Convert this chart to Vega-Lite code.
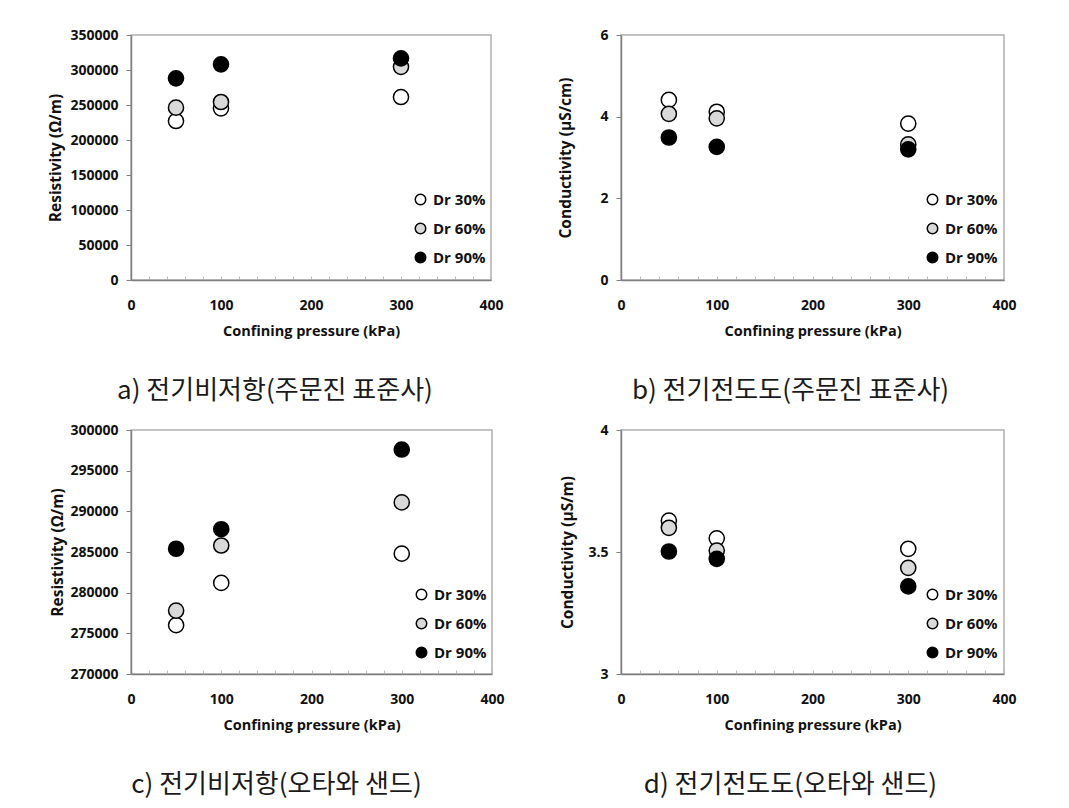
{
  "$schema": "https://vega.github.io/schema/vega-lite/v6.json",
  "background": "white",
  "padding": {"left": 48, "top": 27, "right": 5, "bottom": 5},
  "datasets": {
    "a": [
      {"p": 50, "v": 227100, "s": "Dr 30%"}, {"p": 100, "v": 245200, "s": "Dr 30%"}, {"p": 300, "v": 261400, "s": "Dr 30%"},
      {"p": 50, "v": 246200, "s": "Dr 60%"}, {"p": 100, "v": 254300, "s": "Dr 60%"}, {"p": 300, "v": 304500, "s": "Dr 60%"},
      {"p": 50, "v": 288100, "s": "Dr 90%"}, {"p": 100, "v": 308100, "s": "Dr 90%"}, {"p": 300, "v": 316700, "s": "Dr 90%"}
    ],
    "b": [
      {"p": 50, "v": 4.41, "s": "Dr 30%"}, {"p": 100, "v": 4.12, "s": "Dr 30%"}, {"p": 300, "v": 3.83, "s": "Dr 30%"},
      {"p": 50, "v": 4.07, "s": "Dr 60%"}, {"p": 100, "v": 3.96, "s": "Dr 60%"}, {"p": 300, "v": 3.32, "s": "Dr 60%"},
      {"p": 50, "v": 3.49, "s": "Dr 90%"}, {"p": 100, "v": 3.26, "s": "Dr 90%"}, {"p": 300, "v": 3.2, "s": "Dr 90%"}
    ],
    "c": [
      {"p": 50, "v": 276000, "s": "Dr 30%"}, {"p": 100, "v": 281200, "s": "Dr 30%"}, {"p": 300, "v": 284800, "s": "Dr 30%"},
      {"p": 50, "v": 277800, "s": "Dr 60%"}, {"p": 100, "v": 285800, "s": "Dr 60%"}, {"p": 300, "v": 291100, "s": "Dr 60%"},
      {"p": 50, "v": 285400, "s": "Dr 90%"}, {"p": 100, "v": 287800, "s": "Dr 90%"}, {"p": 300, "v": 297600, "s": "Dr 90%"}
    ],
    "d": [
      {"p": 50, "v": 3.629, "s": "Dr 30%"}, {"p": 100, "v": 3.556, "s": "Dr 30%"}, {"p": 300, "v": 3.513, "s": "Dr 30%"},
      {"p": 50, "v": 3.599, "s": "Dr 60%"}, {"p": 100, "v": 3.506, "s": "Dr 60%"}, {"p": 300, "v": 3.435, "s": "Dr 60%"},
      {"p": 50, "v": 3.502, "s": "Dr 90%"}, {"p": 100, "v": 3.472, "s": "Dr 90%"}, {"p": 300, "v": 3.359, "s": "Dr 90%"}
    ]
  },
  "config": {
    "view": {"stroke": "#b0b0b0", "strokeWidth": 1.5},
    "axis": {
      "grid": false,
      "labelFont": "Open Sans", "labelFontWeight": "bold", "labelFontSize": 14, "labelColor": "#111",
      "titleFont": "Open Sans", "titleFontWeight": "bold", "titleFontSize": 14.5, "titleColor": "#111",
      "domainColor": "#808080", "domainWidth": 1.5, "tickColor": "#808080"
    },
    "axisX": {"tickSize": -4, "tickColor": "#bbbbbb", "labelPadding": 22, "titlePadding": 12, "labelFlush": false},
    "axisY": {"tickSize": 5, "labelPadding": 8, "titleFontSize": 15.5},
    "legend": {
      "orient": "none", "title": null,
      "labelFont": "Open Sans", "labelFontWeight": "bold", "labelFontSize": 15, "labelColor": "#111",
      "symbolType": "circle", "symbolSize": 110, "symbolStrokeColor": "black", "symbolStrokeWidth": 1.5,
      "rowPadding": 12, "labelOffset": 5
    },
    "title": {"orient": "bottom", "font": "Noto Sans CJK KR", "fontSize": 26, "fontWeight": "normal", "color": "#1a1a1a", "anchor": "middle", "frame": "group", "offset": 40}
  },
  "columns": 2,
  "spacing": {"row": 150, "column": 129},
  "bounds": "flush",
  "concat": [
    {
      "width": 360, "height": 245,
      "data": {"name": "a"},
      "title": {"text": "a) 전기비저항(주문진  표준사)", "dx": -36},
      "mark": {"type": "point", "filled": true, "stroke": "black", "strokeWidth": 1.5, "size": 230, "opacity": 1},
      "encoding": {
        "x": {"field": "p", "type": "quantitative", "title": "Confining pressure (kPa)", "scale": {"domain": [0, 400]},
          "axis": {"values": [0,20,40,60,80,100,120,140,160,180,200,220,240,260,280,300,320,340,360,380,400], "labelExpr": "datum.value % 100 == 0 ? datum.label : ''"}},
        "y": {"field": "v", "type": "quantitative", "title": "Resistivity (Ω/m)", "scale": {"domain": [0, 350000]},
          "axis": {"values": [0,50000,100000,150000,200000,250000,300000,350000], "format": "d", "titlePadding": 6}},
        "fill": {"field": "s", "type": "nominal", "scale": {"domain": ["Dr 30%", "Dr 60%", "Dr 90%"], "range": ["white", "#d9d9d9", "black"]},
          "legend": {"legendX": 282, "legendY": 157}}
      }
    },
    {
      "width": 383, "height": 245,
      "data": {"name": "b"},
      "title": {"text": "b) 전기전도도(주문진  표준사)", "dx": -22},
      "mark": {"type": "point", "filled": true, "stroke": "black", "strokeWidth": 1.5, "size": 230, "opacity": 1},
      "encoding": {
        "x": {"field": "p", "type": "quantitative", "title": "Confining pressure (kPa)", "scale": {"domain": [0, 400]},
          "axis": {"values": [0,20,40,60,80,100,120,140,160,180,200,220,240,260,280,300,320,340,360,380,400], "labelExpr": "datum.value % 100 == 0 ? datum.label : ''"}},
        "y": {"field": "v", "type": "quantitative", "title": "Conductivity (μS/cm)", "scale": {"domain": [0, 6]},
          "axis": {"values": [0, 2, 4, 6], "titlePadding": 26}},
        "fill": {"field": "s", "type": "nominal", "scale": {"domain": ["Dr 30%", "Dr 60%", "Dr 90%"], "range": ["white", "#d9d9d9", "black"]},
          "legend": {"legendX": 304, "legendY": 157}}
      }
    },
    {
      "width": 361, "height": 244,
      "data": {"name": "c"},
      "title": {"text": "c) 전기비저항(오타와  샌드)", "dx": -35},
      "mark": {"type": "point", "filled": true, "stroke": "black", "strokeWidth": 1.5, "size": 230, "opacity": 1},
      "encoding": {
        "x": {"field": "p", "type": "quantitative", "title": "Confining pressure (kPa)", "scale": {"domain": [0, 400]},
          "axis": {"values": [0,20,40,60,80,100,120,140,160,180,200,220,240,260,280,300,320,340,360,380,400], "labelExpr": "datum.value % 100 == 0 ? datum.label : ''"}},
        "y": {"field": "v", "type": "quantitative", "title": "Resistivity (Ω/m)", "scale": {"domain": [270000, 300000], "zero": false},
          "axis": {"values": [270000,275000,280000,285000,290000,295000,300000], "format": "d", "titlePadding": 4}},
        "fill": {"field": "s", "type": "nominal", "scale": {"domain": ["Dr 30%", "Dr 60%", "Dr 90%"], "range": ["white", "#d9d9d9", "black"]},
          "legend": {"legendX": 283, "legendY": 157}}
      }
    },
    {
      "width": 383, "height": 244,
      "data": {"name": "d"},
      "title": {"text": "d) 전기전도도(오타와  샌드)", "dx": -22},
      "mark": {"type": "point", "filled": true, "stroke": "black", "strokeWidth": 1.5, "size": 230, "opacity": 1},
      "encoding": {
        "x": {"field": "p", "type": "quantitative", "title": "Confining pressure (kPa)", "scale": {"domain": [0, 400]},
          "axis": {"values": [0,20,40,60,80,100,120,140,160,180,200,220,240,260,280,300,320,340,360,380,400], "labelExpr": "datum.value % 100 == 0 ? datum.label : ''"}},
        "y": {"field": "v", "type": "quantitative", "title": "Conductivity (μS/m)", "scale": {"domain": [3, 4], "zero": false},
          "axis": {"values": [3, 3.5, 4], "format": ".1~f", "titlePadding": 12}},
        "fill": {"field": "s", "type": "nominal", "scale": {"domain": ["Dr 30%", "Dr 60%", "Dr 90%"], "range": ["white", "#d9d9d9", "black"]},
          "legend": {"legendX": 304, "legendY": 157}}
      }
    }
  ],
  "resolve": {"scale": {"fill": "independent", "x": "independent", "y": "independent"}, "legend": {"fill": "independent"}, "axis": {"x": "independent", "y": "independent"}}
}
